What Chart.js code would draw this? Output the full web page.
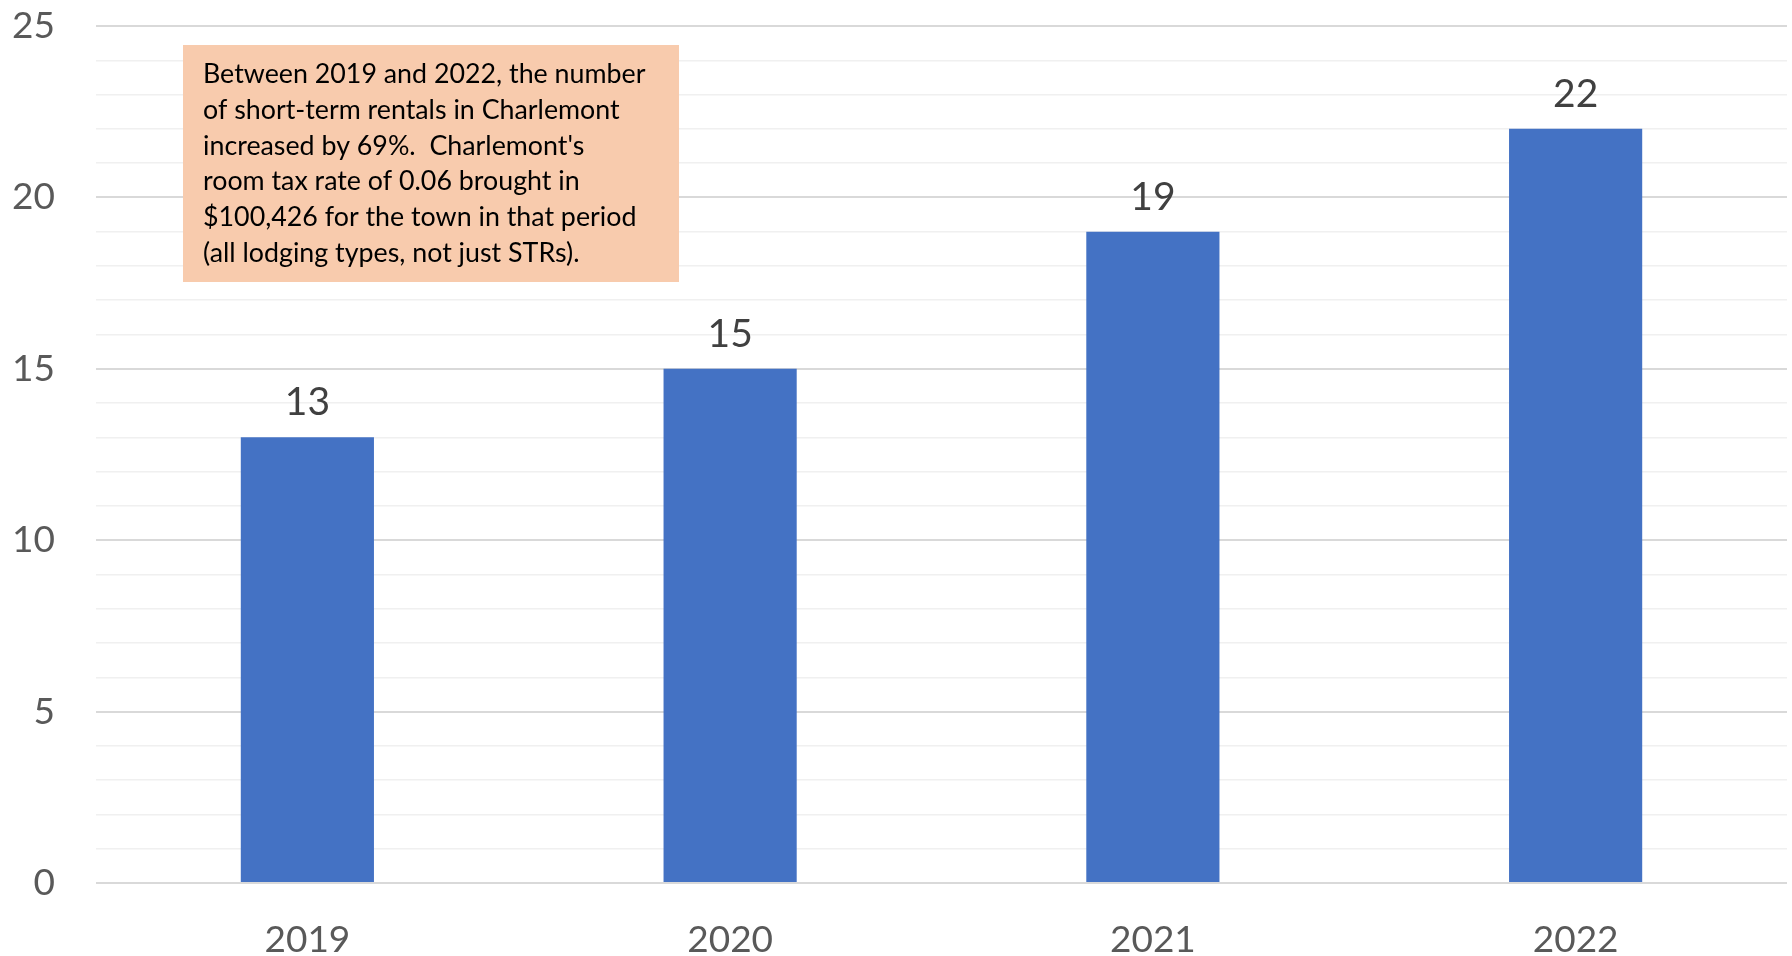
<!DOCTYPE html>
<html>
<head>
<meta charset="utf-8">
<script src="https://cdn.jsdelivr.net/npm/chart.js@4"></script>
<style>
  html, body { margin: 0; padding: 0; background: #ffffff; }
  #wrap { width: 1792px; height: 956px; }
</style>
</head>
<body>
<div id="wrap"><canvas id="strChart" width="1792" height="956"></canvas></div>
<script>
const years = ['2019', '2020', '2021', '2022'];
const rentals = [13, 15, 19, 22];
const noteLines = [
    'Between 2019 and 2022, the number',
    'of short-term rentals in Charlemont',
    "increased by 69%.  Charlemont's",
    'room tax rate of 0.06 brought in',
    '$100,426 for the town in that period',
    '(all lodging types, not just STRs).'
];

const FONT = 'Lato, "Open Sans", sans-serif';

// value labels above each bar
const barLabels = {
    id: 'barLabels',
    afterDatasetsDraw(chart) {
        const ctx = chart.ctx;
        const meta = chart.getDatasetMeta(0);
        ctx.save();
        ctx.font = '39px ' + FONT;
        ctx.fillStyle = '#404040';
        ctx.textAlign = 'center';
        ctx.textBaseline = 'alphabetic';
        meta.data.forEach((bar, i) => {
            ctx.fillText(String(rentals[i]), bar.x, bar.y - 22);
        });
        ctx.restore();
    }
};

// text box in the upper left of the plot
const noteBox = {
    id: 'noteBox',
    afterDraw(chart) {
        const ctx = chart.ctx;
        ctx.save();
        ctx.fillStyle = '#F8CBAD';
        ctx.fillRect(183, 45, 496, 237);
        ctx.fillStyle = '#000000';
        ctx.font = '26.8px ' + FONT;
        ctx.textAlign = 'left';
        ctx.textBaseline = 'alphabetic';
        noteLines.forEach((line, i) => {
            ctx.fillText(line, 203, 83 + i * 35.8);
        });
        ctx.restore();
    }
};

new Chart(document.getElementById('strChart').getContext('2d'), {
    type: 'bar',
    data: {
        labels: years,
        datasets: [{
            data: rentals,
            backgroundColor: '#4472C4',
            borderWidth: 0,
            categoryPercentage: 1,
            barPercentage: 0.315
        }]
    },
    options: {
        responsive: false,
        animation: false,
        layout: {
            padding: { top: 26, right: 5, bottom: 0, left: 0 }
        },
        plugins: {
            legend: { display: false },
            tooltip: { enabled: false }
        },
        scales: {
            x: {
                offset: true,
                grid: { display: false },
                border: { display: false },
                ticks: {
                    color: '#595959',
                    font: { family: FONT, size: 37 },
                    padding: 27,
                    maxRotation: 0
                },
                afterFit(scale) {
                    scale.height = 73;
                }
            },
            y: {
                min: 0,
                max: 25,
                border: { display: false },
                grid: {
                    drawTicks: false,
                    color: c => (c.tick && c.tick.value % 5 === 0) ? '#d9d9d9' : '#f0f0f0',
                    lineWidth: c => (c.tick && c.tick.value % 5 === 0) ? 2 : 1.5
                },
                ticks: {
                    stepSize: 1,
                    autoSkip: false,
                    color: '#595959',
                    font: { family: FONT, size: 37 },
                    padding: 41,
                    callback: v => (v % 5 === 0 ? v : '')
                },
                afterFit(scale) {
                    scale.width = 96;
                    scale.paddingTop = 0;
                    scale.paddingBottom = 0;
                }
            }
        }
    },
    plugins: [barLabels, noteBox]
});
</script>
</body>
</html>
